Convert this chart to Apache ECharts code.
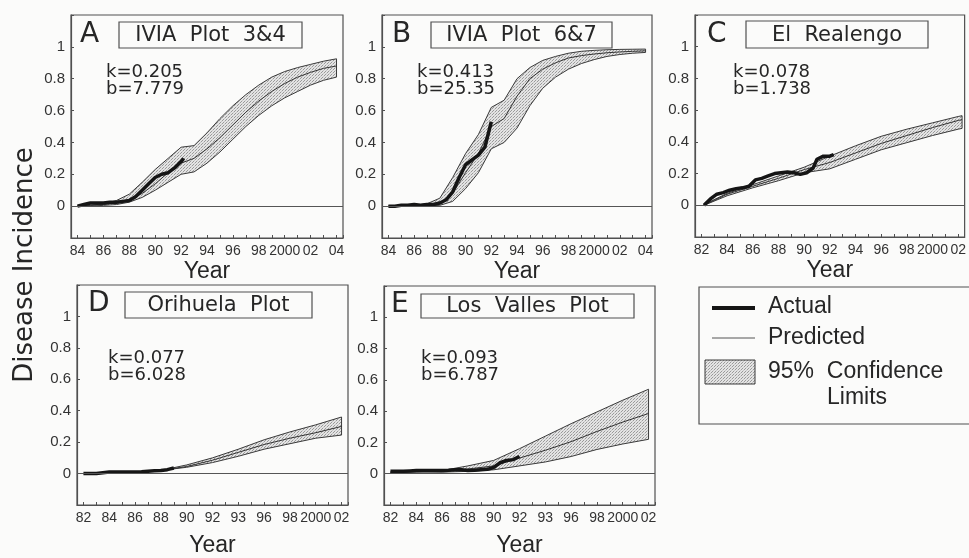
<!DOCTYPE html>
<html><head><meta charset="utf-8">
<script src="https://cdn.jsdelivr.net/npm/echarts@6/dist/echarts.min.js"></script>
<style>html,body{margin:0;padding:0;background:#fbfbfa}#c{width:969px;height:558px}</style>
</head><body><div id="c"></div><script>
// ---------- tick labels ----------
const ticksAB = ['84','86','88','90','92','94','96','98','2000','02','04'];
const ticksC  = ['82','84','86','88','90','92','94','96','98','2000','02'];
const ticksDE = ['82','84','86','88','90','92','93','96','98','2000','02'];

// ---------- Panel A: IVIA Plot 3&4 ----------
const aActYears = [1984,1984.5,1985,1985.5,1986,1986.5,1987,1987.5,1988,1988.5,1989,1989.5,1990,1990.5,1991,1991.5,1992,1992.2];
const aAct      = [0.00,0.01,0.02,0.02,0.02,0.025,0.025,0.03,0.035,0.06,0.10,0.14,0.18,0.20,0.21,0.24,0.28,0.30];
const aFitYears = [1984,1985,1986,1987,1988,1989,1990,1991,1992,1993,1994,1995,1996,1997,1998,1999,2000,2001,2002,2003,2004];
const aFit      = [0.00,0.005,0.01,0.02,0.04,0.08,0.14,0.21,0.27,0.30,0.36,0.43,0.51,0.59,0.66,0.72,0.77,0.81,0.84,0.865,0.88];
const aUpper    = [0.00,0.005,0.015,0.035,0.075,0.15,0.23,0.30,0.37,0.38,0.46,0.55,0.63,0.70,0.76,0.81,0.845,0.87,0.89,0.91,0.925];
const aLower    = [0.00,0.00,0.005,0.01,0.025,0.055,0.10,0.15,0.20,0.215,0.27,0.34,0.42,0.50,0.57,0.63,0.68,0.72,0.76,0.79,0.81];

// ---------- Panel B: IVIA Plot 6&7 ----------
const bActYears = [1984,1984.5,1985,1985.5,1986,1986.5,1987,1987.5,1988,1988.5,1989,1989.5,1990,1990.5,1991,1991.5,1992];
const bAct      = [0.00,0.00,0.005,0.005,0.01,0.005,0.01,0.01,0.02,0.04,0.09,0.18,0.26,0.29,0.32,0.37,0.53];
const bFitYears = [1984,1985,1986,1987,1988,1989,1990,1991,1992,1993,1994,1995,1996,1997,1998,1999,2000,2001,2002,2003,2004];
const bFit      = [0.00,0.003,0.005,0.01,0.02,0.08,0.21,0.33,0.50,0.55,0.69,0.80,0.86,0.90,0.93,0.945,0.955,0.963,0.968,0.972,0.975];
const bUpper    = [0.00,0.003,0.005,0.015,0.05,0.18,0.33,0.45,0.62,0.665,0.80,0.87,0.915,0.94,0.96,0.972,0.978,0.982,0.984,0.985,0.986];
const bLower    = [0.00,0.00,0.00,0.005,0.005,0.03,0.11,0.21,0.36,0.40,0.49,0.63,0.74,0.81,0.86,0.895,0.92,0.94,0.952,0.96,0.965];

// ---------- Panel C: El Realengo ----------
const cActYears = [1982.2,1982.7,1983.2,1983.7,1984.2,1984.7,1985.2,1985.7,1986.2,1986.7,1987.2,1987.7,1988.2,1988.7,1989.2,1989.7,1990.2,1990.7,1991.0,1991.5,1992.0,1992.3];
const cAct      = [0.00,0.04,0.07,0.08,0.095,0.105,0.11,0.12,0.16,0.17,0.185,0.20,0.205,0.21,0.205,0.195,0.205,0.235,0.29,0.31,0.31,0.32];
const cFitYears = [1982.2,1984,1986,1988,1990,1992,1994,1996,1998,2000,2002,2002.3];
const cFit      = [0.00,0.07,0.12,0.17,0.225,0.27,0.33,0.39,0.44,0.49,0.535,0.54];
const cUpper    = [0.005,0.075,0.13,0.185,0.24,0.31,0.375,0.435,0.48,0.52,0.56,0.565];
const cLower    = [0.00,0.06,0.11,0.155,0.205,0.23,0.29,0.35,0.395,0.44,0.48,0.485];

// ---------- Panel D: Orihuela Plot ----------
const dActYears = [1982,1982.5,1983,1983.5,1984,1984.5,1985,1985.5,1986,1986.5,1987,1987.5,1988,1988.5,1989];
const dAct      = [0.00,0.00,0.00,0.005,0.01,0.01,0.01,0.01,0.01,0.012,0.015,0.018,0.02,0.025,0.035];
const dFitYears = [1982,1984,1986,1988,1990,1992,1994,1996,1998,2000,2002];
const dFit      = [0.00,0.005,0.01,0.02,0.045,0.085,0.135,0.185,0.225,0.26,0.30];
const dUpper    = [0.00,0.005,0.01,0.02,0.055,0.10,0.155,0.215,0.265,0.31,0.36];
const dLower    = [0.00,0.005,0.01,0.02,0.04,0.07,0.11,0.155,0.19,0.225,0.245];

// ---------- Panel E: Los Valles Plot ----------
const eActYears = [1982,1982.5,1983,1983.5,1984,1984.5,1985,1985.5,1986,1986.5,1987,1987.5,1988,1988.5,1989,1989.5,1990,1990.5,1991,1991.5,1992];
const eAct      = [0.015,0.015,0.015,0.018,0.02,0.02,0.02,0.02,0.02,0.022,0.025,0.025,0.02,0.022,0.025,0.028,0.04,0.07,0.085,0.09,0.11];
const eFitYears = [1982,1984,1986,1988,1990,1992,1994,1996,1998,2000,2002];
const eFit      = [0.01,0.012,0.015,0.03,0.05,0.10,0.15,0.205,0.27,0.33,0.385];
const eUpper    = [0.01,0.012,0.02,0.05,0.085,0.16,0.24,0.32,0.395,0.47,0.54];
const eLower    = [0.01,0.012,0.01,0.015,0.025,0.05,0.075,0.11,0.155,0.19,0.22];

const panelLetters = ['A','B','C','D','E'];
const panelTitles = ['IVIA  Plot  3&4','IVIA  Plot  6&7','El  Realengo','Orihuela  Plot','Los  Valles  Plot'];
const kTexts = ['k=0.205','k=0.413','k=0.078','k=0.077','k=0.093'];
const bTexts = ['b=7.779','b=25.35','b=1.738','b=6.028','b=6.787'];

// ---------- layout ----------
const FT = 'DejaVu Sans', FL = 'Liberation Sans';
const INK = '#262626', FRAME = '#505050';
const panels = [
  {grid:{left:71,top:15,width:272,height:223}, xmin:1983.5,xmax:2004.5, first:1984, ticks:ticksAB, gap:22,
   act:[aActYears,aAct], fit:[aFitYears,aFit,aUpper,aLower],
   letter:[80,35], box:[119,22,183,26], kb:[106,72]},
  {grid:{left:382,top:15,width:270,height:223}, xmin:1983.5,xmax:2004.5, first:1984, ticks:ticksAB, gap:22,
   act:[bActYears,bAct], fit:[bFitYears,bFit,bUpper,bLower],
   letter:[392,35], box:[431,22,181,26], kb:[417,72]},
  {grid:{left:695,top:15,width:272,height:222}, xmin:1981.5,xmax:2002.5, first:1982, ticks:ticksC, gap:22,
   act:[cActYears,cAct], fit:[cFitYears,cFit,cUpper,cLower],
   letter:[707,35], box:[746,21,182,27], kb:[733,72]},
  {grid:{left:77,top:285,width:271,height:223}, xmin:1981.5,xmax:2002.5, first:1982, ticks:ticksDE, gap:29,
   act:[dActYears,dAct], fit:[dFitYears,dFit,dUpper,dLower],
   letter:[88,304], box:[125,292,187,26], kb:[108,358]},
  {grid:{left:384,top:286,width:271,height:222}, xmin:1981.5,xmax:2002.5, first:1982, ticks:ticksDE, gap:29,
   act:[eActYears,eAct], fit:[eFitYears,eFit,eUpper,eLower],
   letter:[391,305], box:[421,294,213,24], kb:[421,358]}
];

const zip = (xs, ys) => xs.map((x, i) => [x, ys[i]]);

// stipple pattern for confidence band
function makePattern(){
  const cv = document.createElement('canvas');
  cv.width = 3; cv.height = 3;
  const g = cv.getContext('2d');
  g.fillStyle = '#e4e4e4'; g.fillRect(0,0,3,3);
  g.fillStyle = '#9a9a9a'; g.fillRect(0,0,1,1); g.fillRect(1,2,1,1);
  g.fillStyle = '#c4c4c4'; g.fillRect(2,1,1,1);
  return {image: cv, repeat: 'repeat'};
}
const bandFill = makePattern();

function xLabel(p, v){
  const i = (v - p.first) / 2;
  const r = Math.round(i);
  if (Math.abs(i - r) > 1e-6 || r < 0 || r >= p.ticks.length) return '';
  return p.ticks[r];
}

const option = {
  animation: false,
  backgroundColor: '#fbfbfa',
  grid: panels.map(p => Object.assign({show:true, borderColor:FRAME, borderWidth:1.2, backgroundColor:'transparent'}, p.grid)),
  xAxis: panels.map((p, i) => ({
    type:'value', gridIndex:i, min:p.xmin, max:p.xmax, splitNumber:10,
    name:'Year', nameLocation:'middle', nameGap:p.gap,
    nameTextStyle:{fontFamily:FL, fontSize:23, color:INK},
    axisLine:{show:true, onZero:false, lineStyle:{color:FRAME, width:1.2}},
    axisTick:{show:true, inside:true, length:3, lineStyle:{color:FRAME}},
    minorTick:{show:true, splitNumber:2, length:3, lineStyle:{color:FRAME}},
    splitLine:{show:false}, minorSplitLine:{show:false},
    axisLabel:{fontFamily:FL, fontSize:14, color:'#333', margin:6, showMinLabel:true, showMaxLabel:true,
      formatter: v => xLabel(p, v)}
  })),
  yAxis: panels.map((p, i) => ({
    type:'value', gridIndex:i, min:-0.2, max:1.2, interval:0.2,
    axisLine:{show:true, onZero:false, lineStyle:{color:FRAME, width:1.2}},
    axisTick:{show:true, inside:true, length:3, lineStyle:{color:FRAME}},
    splitLine:{show:false},
    axisLabel:{fontFamily:FL, fontSize:15, color:'#333', margin:6,
      formatter: v => (v < -0.01 || v > 1.01) ? '' : String(Math.round(v * 10) / 10)}
  })),
  series: [],
  graphic: []
};

panels.forEach((p, i) => {
  const [fy, fv, up, lo] = p.fit;
  option.series.push({
    type:'custom', xAxisIndex:i, yAxisIndex:i, silent:true, z:1,
    data:[[fy[0], lo[0]]],
    renderItem: (params, api) => {
      const pts = [];
      for (let k = 0; k < fy.length; k++) pts.push(api.coord([fy[k], up[k]]));
      for (let k = fy.length - 1; k >= 0; k--) pts.push(api.coord([fy[k], lo[k]]));
      return {type:'polygon', shape:{points:pts}, style:{fill:bandFill, stroke:'#3a3a3a', lineWidth:1}};
    }
  });
  option.series.push({
    type:'line', xAxisIndex:i, yAxisIndex:i, data:zip(fy, fv), showSymbol:false, silent:true, z:2,
    lineStyle:{color:'#333', width:1},
    markLine:{silent:true, symbol:'none', label:{show:false}, animation:false,
      lineStyle:{color:'#555', width:1, type:'solid'}, data:[{yAxis:0}]}
  });
  option.series.push({
    type:'line', xAxisIndex:i, yAxisIndex:i, data:zip(p.act[0], p.act[1]), showSymbol:false, silent:true, z:3,
    lineStyle:{color:'#151515', width:3.5}
  });

  // panel annotations
  option.graphic.push({type:'text', x:p.letter[0], y:p.letter[1], silent:true,
    style:{text:panelLetters[i], font:'28px "' + FT + '"', fill:INK, textVerticalAlign:'middle'}});
  const b = p.box;
  option.graphic.push({type:'rect', shape:{x:b[0], y:b[1], width:b[2], height:b[3]}, silent:true,
    style:{fill:'none', stroke:FRAME, lineWidth:1.2}});
  option.graphic.push({type:'text', x:b[0] + b[2] / 2, y:b[1] + b[3] / 2 + 1, silent:true,
    style:{text:panelTitles[i], font:'21px "' + FT + '"', fill:INK, textAlign:'center', textVerticalAlign:'middle'}});
  option.graphic.push({type:'text', x:p.kb[0], y:p.kb[1], silent:true,
    style:{text:kTexts[i], font:'18px "' + FT + '"', fill:INK, textVerticalAlign:'middle'}});
  option.graphic.push({type:'text', x:p.kb[0], y:p.kb[1] + 17, silent:true,
    style:{text:bTexts[i], font:'18px "' + FT + '"', fill:INK, textVerticalAlign:'middle'}});
});

// shared y-axis title
option.graphic.push({type:'text', x:25, y:265, rotation:Math.PI / 2, silent:true,
  style:{text:'Disease Incidence', font:'26px "' + FT + '"', fill:INK, textAlign:'center', textVerticalAlign:'middle'}});

// legend box
option.graphic.push({type:'rect', shape:{x:699, y:287, width:290, height:137}, silent:true,
  style:{fill:'none', stroke:FRAME, lineWidth:1.2}});
option.graphic.push({type:'line', shape:{x1:712, y1:308, x2:755, y2:308}, silent:true,
  style:{stroke:'#151515', lineWidth:4}});
option.graphic.push({type:'line', shape:{x1:712, y1:338, x2:755, y2:338}, silent:true,
  style:{stroke:'#555', lineWidth:1}});
option.graphic.push({type:'rect', shape:{x:705, y:360, width:50, height:24}, silent:true,
  style:{fill:bandFill, stroke:'#3a3a3a', lineWidth:1}});
const legTexts = [['Actual',768,307],['Predicted',768,338],['95%  Confidence',768,372],['Limits',827,398]];
legTexts.forEach(t => option.graphic.push({type:'text', x:t[1], y:t[2], silent:true,
  style:{text:t[0], font:'23px "' + FL + '"', fill:INK, textVerticalAlign:'middle'}}));

const chart = echarts.init(document.getElementById('c'));
chart.setOption(option);
</script></body></html>
